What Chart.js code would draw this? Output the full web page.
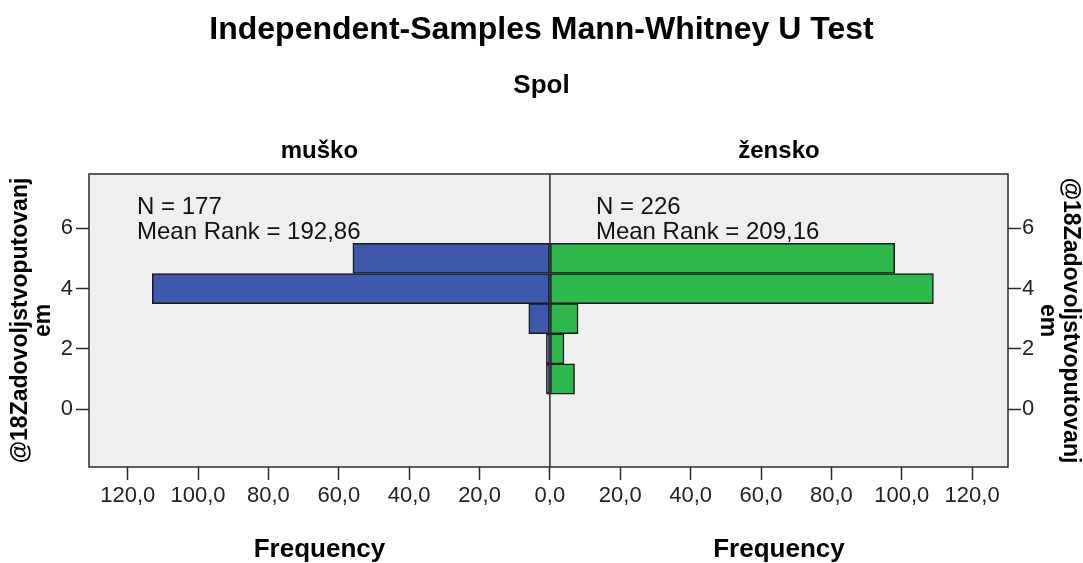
<!DOCTYPE html>
<html><head><meta charset="utf-8">
<script src="https://cdn.jsdelivr.net/npm/chart.js@4"></script>
<style>html,body{margin:0;padding:0;background:#fff}#wrap{width:1083px;height:563px;position:relative}</style>
</head><body><div id="wrap"><canvas id="c"></canvas></div>
<script>
// ---- data ----
const categories = [1, 2, 3, 4, 5];           // @18Zadovoljstvoputovanjem values
const groupLabels = ['muško', 'žensko'];
const maleFreq = [1, 1, 6, 113, 56];
const femaleFreq = [7, 4, 8, 109, 98];
const groupN = [177, 226];
const meanRank = ['192,86', '209,16'];
const xTickValues = [-120, -100, -80, -60, -40, -20, 0, 20, 40, 60, 80, 100, 120];
const yTickValues = [0, 2, 4, 6];
const titleText = 'Independent-Samples Mann-Whitney U Test';
const subtitleText = 'Spol';
const yTitle = ['@18Zadovoljstvoputovanj', 'em'];
const xTitle = 'Frequency';

const FONT = '"Liberation Sans", Arial, sans-serif';
Chart.defaults.font.family = FONT;
Chart.defaults.color = '#000';

const LINE = '#2a2a2a';

const decor = {
  id: 'decor',
  beforeDraw(chart) {
    const {ctx, chartArea: a} = chart;
    ctx.save();
    ctx.fillStyle = '#efefef';
    ctx.fillRect(a.left, a.top, a.right - a.left, a.bottom - a.top);
    ctx.restore();
  },
  afterDatasetsDraw(chart) {
    const {ctx, chartArea: a, scales: {x}} = chart;
    const zero = x.getPixelForValue(0);
    ctx.save();
    ctx.strokeStyle = LINE;
    ctx.lineWidth = 1.5;
    ctx.strokeRect(a.left, a.top, a.right - a.left, a.bottom - a.top);
    ctx.beginPath();
    ctx.moveTo(zero, a.top);
    ctx.lineTo(zero, a.bottom);
    ctx.stroke();
    const centers = [(a.left + zero) / 2, (zero + a.right) / 2];
    ctx.fillStyle = '#000';
    ctx.textAlign = 'center';
    ctx.textBaseline = 'alphabetic';
    ctx.font = 'bold 24px ' + FONT;
    groupLabels.forEach((g, i) => ctx.fillText(g, centers[i], a.top - 16));
    ctx.font = 'bold 26px ' + FONT;
    centers.forEach(cx => ctx.fillText(xTitle, cx, chart.height - 6));
    ctx.font = '24px ' + FONT;
    ctx.textAlign = 'left';
    ctx.fillStyle = '#111';
    const lefts = [a.left + 48, zero + 46];
    lefts.forEach((lx, i) => {
      ctx.fillText('N = ' + groupN[i], lx, a.top + 40);
      ctx.fillText('Mean Rank = ' + meanRank[i], lx, a.top + 65);
    });
    ctx.restore();
  }
};

const yAxisCommon = {
  type: 'linear',
  min: -1.92,
  max: 7.8,
  offset: false,
  afterBuildTicks: s => { s.ticks = yTickValues.map(v => ({value: v})); },
  grid: {offset: false, drawOnChartArea: false, drawTicks: true, tickLength: 13, tickColor: LINE, tickWidth: 1.5},
  border: {display: false}
};

new Chart(document.getElementById('c'), {
  type: 'bar',
  data: {
    datasets: [
      {
        label: groupLabels[0],
        data: categories.map((c, i) => ({x: -maleFreq[i], y: c})),
        backgroundColor: '#3e58ac',
        borderColor: '#1a1a1a',
        borderWidth: 1.5,
        borderSkipped: false,
        grouped: false,
        barPercentage: 1,
        categoryPercentage: 1
      },
      {
        label: groupLabels[1],
        data: categories.map((c, i) => ({x: femaleFreq[i], y: c})),
        backgroundColor: '#2eb84b',
        borderColor: '#1a1a1a',
        borderWidth: 1.5,
        borderSkipped: false,
        grouped: false,
        barPercentage: 1,
        categoryPercentage: 1
      }
    ]
  },
  options: {
    indexAxis: 'y',
    responsive: true,
    maintainAspectRatio: false,
    animation: false,
    layout: {padding: 0},
    plugins: {
      legend: {display: false},
      tooltip: {enabled: false},
      title: {display: true, text: titleText, font: {size: 32, weight: 'bold', lineHeight: 1.2}, padding: {top: 11, bottom: 0}, color: '#000'},
      subtitle: {display: true, text: subtitleText, font: {size: 26, weight: 'bold', lineHeight: 1.2}, padding: {top: 21, bottom: 72.4}, color: '#000'}
    },
    scales: {
      x: {
        type: 'linear',
        min: -131,
        max: 130.2,
        offset: false,
        afterBuildTicks: s => { s.ticks = xTickValues.map(v => ({value: v})); },
        afterFit: s => { s.height = 96; },
        grid: {offset: false, drawOnChartArea: false, drawTicks: true, tickLength: 13, tickColor: LINE, tickWidth: 1.5},
        border: {display: false},
        ticks: {
          font: {size: 22}, color: '#222', padding: 3, autoSkip: false, maxRotation: 0,
          callback: v => Math.abs(v).toFixed(1).replace('.', ',')
        }
      },
      y: Object.assign({}, yAxisCommon, {
        position: 'left',
        afterFit: s => { s.width = 89; },
        ticks: {font: {size: 22}, color: '#222', padding: 3},
        title: {display: true, text: yTitle, font: {size: 23, weight: 'bold', lineHeight: 1.0}, padding: {top: 9, bottom: 0}, color: '#000'}
      }),
      y2: Object.assign({}, yAxisCommon, {
        position: 'right',
        afterFit: s => { s.width = 75; },
        ticks: {font: {size: 22}, color: '#222', padding: 1},
        title: {display: true, text: yTitle, font: {size: 23, weight: 'bold', lineHeight: 1.0}, padding: {top: 1, bottom: 0}, color: '#000'}
      })
    }
  },
  plugins: [decor]
});
</script>
</body></html>
